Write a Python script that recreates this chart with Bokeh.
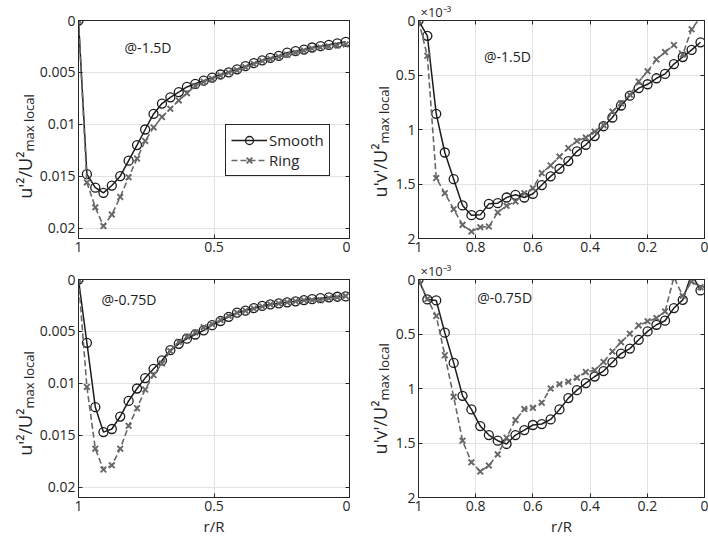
import numpy as np
from bokeh.plotting import figure
from bokeh.models import (Range1d, FixedTicker, CustomJSTickFormatter, Label,
                          Legend, LegendItem, LinearAxis)
from bokeh.core.properties import value
from bokeh.layouts import column, row
from bokeh.embed import file_html
from bokeh.resources import INLINE

# ---------------- data ----------------
r = [1.000, 0.969, 0.938, 0.908, 0.877, 0.846, 0.815, 0.784, 0.754, 0.723,
     0.692, 0.661, 0.630, 0.600, 0.569, 0.538, 0.507, 0.476, 0.446, 0.415,
     0.384, 0.353, 0.322, 0.292, 0.261, 0.230, 0.199, 0.168, 0.138, 0.107,
     0.076, 0.045, 0.014]

# u'^2 / U^2 max local at -1.5D
uu_15_smooth = [0, 0.0148, 0.0161, 0.0166, 0.0159, 0.0150, 0.0135, 0.0120, 0.0105, 0.0090,
                0.0080, 0.0074, 0.0069, 0.0064, 0.0061, 0.0058, 0.0055, 0.0052, 0.0050, 0.0047,
                0.0044, 0.0041, 0.00385, 0.0036, 0.0034, 0.0031, 0.00295, 0.0028, 0.0026, 0.00247,
                0.00234, 0.0022, 0.00205]
uu_15_ring = [0, 0.0156, 0.0180, 0.0198, 0.0187, 0.0170, 0.0151, 0.0133, 0.0116, 0.0103,
              0.0093, 0.0085, 0.0077, 0.0070, 0.0063, 0.0059, 0.0056, 0.0053, 0.0050, 0.0048,
              0.0045, 0.0042, 0.0039, 0.0037, 0.0035, 0.0033, 0.0031, 0.0029, 0.0027, 0.0026,
              0.0025, 0.0024, 0.0023]

# u'v' / U^2 max local (x 1e-3) at -1.5D
uv_15_smooth = [0, 0.141, 0.856, 1.211, 1.456, 1.697, 1.786, 1.783, 1.682, 1.676,
                1.624, 1.599, 1.624, 1.590, 1.51, 1.43, 1.36, 1.29, 1.20, 1.14,
                1.06, 0.97, 0.89, 0.78, 0.69, 0.62, 0.585, 0.53, 0.49, 0.40,
                0.335, 0.27, 0.20]
uv_15_ring = [0, 0.324, 1.446, 1.584, 1.731, 1.875, 1.936, 1.896, 1.89, 1.761,
              1.70, 1.66, 1.584, 1.538, 1.40, 1.33, 1.248, 1.17, 1.105, 1.074,
              1.02, 0.96, 0.836, 0.759, 0.682, 0.559, 0.466, 0.358, 0.29, 0.225,
              0.312, 0.080, -0.03]

# u'^2 / U^2 max local at -0.75D
uu_075_smooth = [0, 0.0061, 0.0123, 0.0147, 0.0144, 0.0132, 0.0117, 0.0105, 0.0095, 0.0086,
                 0.0078, 0.0068, 0.0062, 0.0057, 0.0053, 0.0049, 0.0044, 0.0040, 0.0036, 0.0032,
                 0.0030, 0.00275, 0.00255, 0.0024, 0.0023, 0.0022, 0.0021, 0.00198, 0.0019, 0.0018,
                 0.00172, 0.00166, 0.00163]
uu_075_ring = [0, 0.01035, 0.0163, 0.0183, 0.0179, 0.0163, 0.0141, 0.0124, 0.0106, 0.0092,
               0.0081, 0.0069, 0.0060, 0.0055, 0.0051, 0.0046, 0.0043, 0.0039, 0.0035, 0.0032,
               0.0030, 0.0028, 0.0026, 0.0024, 0.0023, 0.0022, 0.0021, 0.0020, 0.0020, 0.0020,
               0.0018, 0.0017, 0.0016]

# u'v' / U^2 max local (x 1e-3) at -0.75D
uv_075_smooth = [0, 0.183, 0.192, 0.488, 0.765, 1.067, 1.192, 1.345, 1.427, 1.479,
                 1.509, 1.427, 1.381, 1.335, 1.326, 1.284, 1.192, 1.088, 1.015, 0.95,
                 0.89, 0.84, 0.76, 0.68, 0.634, 0.553, 0.476, 0.415, 0.378, 0.262,
                 0.187, -0.05, 0.10]
uv_075_ring = [0, 0.18, 0.335, 0.695, 1.076, 1.479, 1.677, 1.762, 1.707, 1.604,
               1.451, 1.290, 1.189, 1.177, 1.131, 1.0, 0.96, 0.939, 0.902, 0.848,
               0.832, 0.756, 0.66, 0.575, 0.497, 0.421, 0.384, 0.354, 0.293, -0.02,
               0.15, 0.02, 0.07]

series_names = ["Smooth", "Ring"]
panel_tags = ["@-1.5D", "@-1.5D", "@-0.75D", "@-0.75D"]
ylabel_main = ["u'²/U²", "u'v'/U²"]
ylabel_sub = "max local"
xlabel_text = "r/R"
exponent_text = "×10⁻³"

x_ticks_left = [0, 0.5, 1]
x_tick_labels_left = ["0", "0.5", "1"]
x_ticks_right = [0, 0.2, 0.4, 0.6, 0.8, 1]
x_tick_labels_right = ["0", "0.2", "0.4", "0.6", "0.8", "1"]
y_ticks_left = [0, 0.005, 0.01, 0.015, 0.02]
y_tick_labels_left = ["0", "0.005", "0.01", "0.015", "0.02"]
y_ticks_right = [0, 0.5, 1, 1.5, 2]
y_tick_labels_right = ["0", "0.5", "1", "1.5", "2"]

# ---------------- style ----------------
FONT = "Open Sans"
TXT = "#262626"
BLACK = "#1c1c1c"
GRAY = "#686868"
GRID = "#e2e2e2"

FMT = """
for (let i = 0; i < tk.length; i++) {
  if (Math.abs(tk[i] - tick) < 1e-9) { return lb[i]; }
}
return "";
"""


def fmt(tks, labels):
    return CustomJSTickFormatter(args=dict(tk=tks, lb=labels), code=FMT)


def style_axis(ax, t):
    ax.ticker = FixedTicker(ticks=t)
    ax.major_tick_in = 4
    ax.major_tick_out = 0
    ax.minor_tick_in = 0
    ax.minor_tick_out = 0
    ax.axis_line_color = TXT
    ax.major_tick_line_color = TXT


def panel(fw, xt, xl, yt, yl, ymax, bl, br, bt, bb, xlabel=None, exp=False):
    p = figure(frame_width=fw, frame_height=218,
               x_range=Range1d(1, 0), y_range=Range1d(ymax, 0),
               output_backend="svg", toolbar_location=None,
               min_border_left=bl, min_border_right=br,
               min_border_top=bt, min_border_bottom=bb)
    p.background_fill_color = "white"
    p.border_fill_color = "white"
    p.outline_line_color = TXT
    p.outline_line_width = 1
    p.outline_line_alpha = 1
    bottom_axis = p.below[0]
    left_axis = p.left[0]
    for ax, t, l in ((bottom_axis, xt, xl), (left_axis, yt, yl)):
        style_axis(ax, t)
        ax.formatter = fmt(t, l)
        ax.major_label_text_font = FONT
        ax.major_label_text_font_size = "14px"
        ax.major_label_text_color = TXT
        ax.major_label_standoff = 3
    if xlabel:
        bottom_axis.axis_label = xlabel
        bottom_axis.axis_label_text_font = FONT
        bottom_axis.axis_label_text_font_size = "15px"
        bottom_axis.axis_label_text_font_style = "normal"
        bottom_axis.axis_label_text_color = TXT
        bottom_axis.axis_label_standoff = 2
    # mirrored tick marks on the top and right edges (no labels)
    for loc, t in (("above", xt), ("right", yt)):
        ax = LinearAxis()
        style_axis(ax, t)
        ax.major_label_text_font_size = "0px"
        ax.major_label_standoff = 0
        ax.formatter = fmt([], [])
        p.add_layout(ax, loc)
    p.xgrid.ticker = FixedTicker(ticks=xt)
    p.ygrid.ticker = FixedTicker(ticks=yt)
    p.xgrid.grid_line_color = GRID
    p.ygrid.grid_line_color = GRID
    if exp:
        p.title.text = exponent_text
        p.title.align = "left"
        p.title.offset = 2
        p.title.standoff = 0
        p.title.text_font = FONT
        p.title.text_font_size = "13px"
        p.title.text_font_style = "normal"
        p.title.text_color = TXT
    return p


def label_fig(w, h, main, x_main, y_p):
    """Narrow figure holding the rotated y-axis label (with subscript)."""
    f = figure(frame_width=w, frame_height=h, x_range=Range1d(0, w),
               y_range=Range1d(0, h), output_backend="svg",
               toolbar_location=None, min_border=0,
               x_axis_location=None, y_axis_location=None)
    f.grid.visible = False
    f.outline_line_color = None
    f.background_fill_color = "white"
    f.border_fill_color = "white"
    f.text(x=[x_main], y=[y_p], text=[main], angle=np.pi / 2,
           text_align="right", text_baseline="alphabetic",
           text_font=value(FONT), text_font_size=value("18px"), text_color=TXT)
    f.text(x=[x_main + 4], y=[y_p], text=[ylabel_sub], angle=np.pi / 2,
           text_align="left", text_baseline="alphabetic",
           text_font=value(FONT), text_font_size=value("13px"), text_color=TXT)
    return f


def draw(p, smooth, ring):
    l1 = p.line(r, smooth, line_color=BLACK, line_width=1.5)
    s1 = p.scatter(r, smooth, marker="circle", size=9, fill_color=None,
                   line_color=BLACK, line_width=1.3)
    l2 = p.line(r, ring, line_color=GRAY, line_width=1.6, line_dash="6 3")
    s2 = p.scatter(r, ring, marker="x", size=8, line_color=GRAY, line_width=1.9)
    return (l1, s1), (l2, s2)


def tag(p, x, y, text):
    p.add_layout(Label(x=x, y=y, text=text, text_font=FONT, text_font_size="14px",
                       text_align="left", text_baseline="middle", text_color=BLACK))


TOP_H = 20 + 218 + 21
BOT_H = 18 + 218 + 44
L1, L2 = 36, 42
RW = 286  # right-panel frame width

# top-left
p1 = panel(271, x_ticks_left, x_tick_labels_left, y_ticks_left, y_tick_labels_left,
           0.021, 77 - L1, 1, 20, 21)
(a1, b1) = draw(p1, uu_15_smooth, uu_15_ring)
tag(p1, 0.830, 0.0026, panel_tags[0])
leg = Legend(items=[LegendItem(label=series_names[0], renderers=list(a1)),
                    LegendItem(label=series_names[1], renderers=list(b1))],
             location=(147, 62))
leg.label_text_font = FONT
leg.label_text_font_size = "15px"
leg.label_text_color = TXT
leg.glyph_width = 36
leg.glyph_height = 20
leg.label_height = 20
leg.label_standoff = 2
leg.padding = 5
leg.spacing = 0
leg.margin = 0
leg.border_line_color = TXT
leg.border_line_width = 1
leg.border_line_alpha = 1
leg.background_fill_alpha = 1
p1.add_layout(leg, "center")
lab1 = label_fig(L1, TOP_H, ylabel_main[0], 24, TOP_H - 131)

# top-right
p2 = panel(RW, x_ticks_right, x_tick_labels_right, y_ticks_right, y_tick_labels_right,
           2.0, 416 - 349 - L2, 6, 20, 21, exp=True)
draw(p2, uv_15_smooth, uv_15_ring)
tag(p2, 0.771, 0.326, panel_tags[1])
lab2 = label_fig(L2, TOP_H, ylabel_main[1], 29, TOP_H - 123)

# bottom-left
p3 = panel(271, x_ticks_left, x_tick_labels_left, y_ticks_left, y_tick_labels_left,
           0.021, 77 - L1, 1, 18, 44, xlabel=xlabel_text)
draw(p3, uu_075_smooth, uu_075_ring)
tag(p3, 0.915, 0.00197, panel_tags[2])
lab3 = label_fig(L1, BOT_H, ylabel_main[0], 24, BOT_H - (131 + 257 - TOP_H))

# bottom-right
p4 = panel(RW, x_ticks_right, x_tick_labels_right, y_ticks_right, y_tick_labels_right,
           2.0, 416 - 349 - L2, 6, 18, 44, xlabel=xlabel_text, exp=True)
draw(p4, uv_075_smooth, uv_075_ring)
tag(p4, 0.795, 0.167, panel_tags[3])
lab4 = label_fig(L2, BOT_H, ylabel_main[1], 29, BOT_H - (123 + 257 - TOP_H))

layout = column(row(lab1, p1, lab2, p2), row(lab3, p3, lab4, p4))
open("out.html", "w").write(file_html(layout, INLINE))
